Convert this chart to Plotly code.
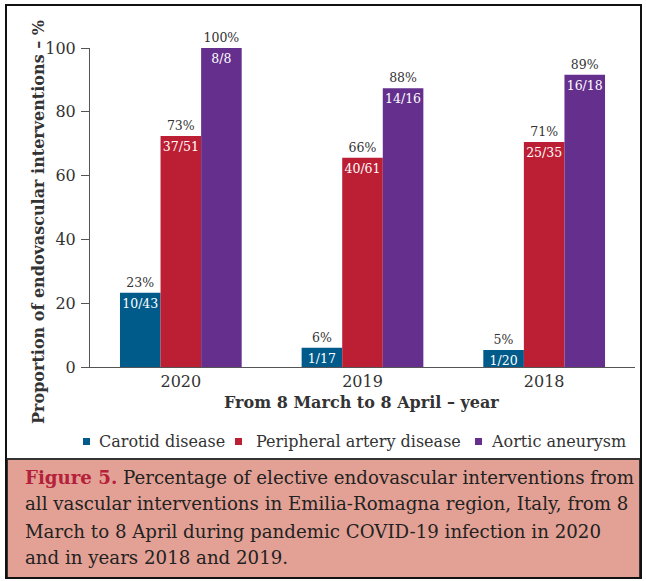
import plotly.graph_objects as go

years = ["2020", "2019", "2018"]
series_names = ["Carotid disease", "Peripheral artery disease", "Aortic aneurysm"]
carotid = [23.3, 6.0, 5.3]
peripheral = [72.4, 65.6, 70.5]
aortic = [100.0, 87.4, 91.6]
carotid_pct = ["23%", "6%", "5%"]
peripheral_pct = ["73%", "66%", "71%"]
aortic_pct = ["100%", "88%", "89%"]
carotid_frac = ["10/43", "1/17", "1/20"]
peripheral_frac = ["37/51", "40/61", "25/35"]
aortic_frac = ["8/8", "14/16", "16/18"]
colors = ["#005B8A", "#BC1F34", "#652F8E"]
caption_lines = [
    "<b><span style='color:#B5203A'>Figure 5.</span></b> Percentage of elective endovascular interventions from",
    "all vascular interventions in Emilia-Romagna region, Italy, from 8",
    "March to 8 April during pandemic COVID-19 infection in 2020",
    "and in years 2018 and 2019.",
]

W, H = 646, 581
L, R, T, B = 90, 11, 48, 214
PW, PH = W - L - R, H - T - B


def px(x):
    return (x - L) / PW


def py(y):
    return (H - B - y) / PH


SERIF = "DejaVu Serif"

fig = go.Figure()
values = [carotid, peripheral, aortic]
pcts = [carotid_pct, peripheral_pct, aortic_pct]
fracs = [carotid_frac, peripheral_frac, aortic_frac]
for i in range(3):
    fig.add_trace(go.Bar(
        x=years, y=values[i], name=series_names[i], marker_color=colors[i],
        marker_line_width=0, offsetgroup=str(i), showlegend=False,
        text=pcts[i], textposition="outside", cliponaxis=False,
        constraintext="none", textangle=0,
        outsidetextfont=dict(family=SERIF, size=12.5, color="#333333"),
        hoverinfo="skip",
    ))
for i in range(3):
    fig.add_trace(go.Bar(
        x=years, y=values[i], showlegend=False, marker_color="rgba(0,0,0,0)",
        marker_line_width=0, offsetgroup=str(i),
        text=fracs[i], textposition="inside", insidetextanchor="end",
        constraintext="none", cliponaxis=False, textangle=0,
        insidetextfont=dict(family=SERIF, size=12.5, color="white"),
        hoverinfo="skip",
    ))

shapes = [
    dict(type="rect", xref="paper", yref="paper",
         x0=px(7), x1=px(640), y0=py(578), y1=py(459),
         fillcolor="#E3A195", line=dict(color="#333333", width=2), layer="below"),
    dict(type="rect", xref="paper", yref="paper",
         x0=px(6), x1=px(641), y0=py(578), y1=py(5),
         fillcolor="rgba(0,0,0,0)", line=dict(color="#111111", width=2)),
]
annotations = [
    dict(text="<b>Proportion of endovascular interventions – %</b>",
         xref="paper", yref="paper", x=px(38), y=py(222), textangle=-90,
         showarrow=False, xanchor="center", yanchor="middle",
         font=dict(family=SERIF, size=16, color="#333333")),
    dict(text="<b>From 8 March to 8 April – year</b>",
         xref="paper", yref="paper", x=px(361), y=py(402),
         showarrow=False, xanchor="center", yanchor="middle",
         font=dict(family=SERIF, size=16, color="#333333")),
]

# legend (squares + labels)
leg_marker_x = [83, 235, 475]
leg_text_x = [97, 254, 489]
leg_y = 441
for i in range(3):
    shapes.append(dict(type="rect", xref="paper", yref="paper",
                       x0=px(leg_marker_x[i]), x1=px(leg_marker_x[i] + 7),
                       y0=py(leg_y + 4), y1=py(leg_y - 3),
                       fillcolor=colors[i], line=dict(width=0)))
    annotations.append(dict(text=series_names[i], xref="paper", yref="paper",
                            x=px(leg_text_x[i]), y=py(leg_y), showarrow=False,
                            xanchor="left", yanchor="middle",
                            font=dict(family=SERIF, size=16, color="#333333")))

cap_y = [477, 504, 531, 557]
for i, line in enumerate(caption_lines):
    annotations.append(dict(text=line, xref="paper", yref="paper",
                            x=px(23), y=py(cap_y[i]), showarrow=False,
                            xanchor="left", yanchor="middle", align="left",
                            font=dict(family=SERIF, size=18.2, color="#222222")))

fig.update_layout(
    width=W, height=H,
    margin=dict(l=L, r=R, t=T, b=B, pad=0),
    paper_bgcolor="white", plot_bgcolor="white",
    barmode="group", bargap=0.33, bargroupgap=0,
    font=dict(family=SERIF, color="#333333"),
    showlegend=False,
    xaxis=dict(
        showline=True, linecolor="#555555", linewidth=1,
        ticks="", showgrid=False, zeroline=False,
        tickfont=dict(family=SERIF, size=16, color="#333333"),
    ),
    yaxis=dict(
        range=[0, 100], tickvals=[0, 20, 40, 60, 80, 100],
        showline=True, linecolor="#555555", linewidth=1,
        ticks="outside", ticklen=8, tickcolor="#555555",
        ticklabelstandoff=2,
        showgrid=False, zeroline=False,
        tickfont=dict(family=SERIF, size=16, color="#333333"),
    ),
    shapes=shapes,
    annotations=annotations,
)

fig.write_html("out.html", config={"displayModeBar": False, "staticPlot": True},
               post_script="document.body.style.margin='0';")
